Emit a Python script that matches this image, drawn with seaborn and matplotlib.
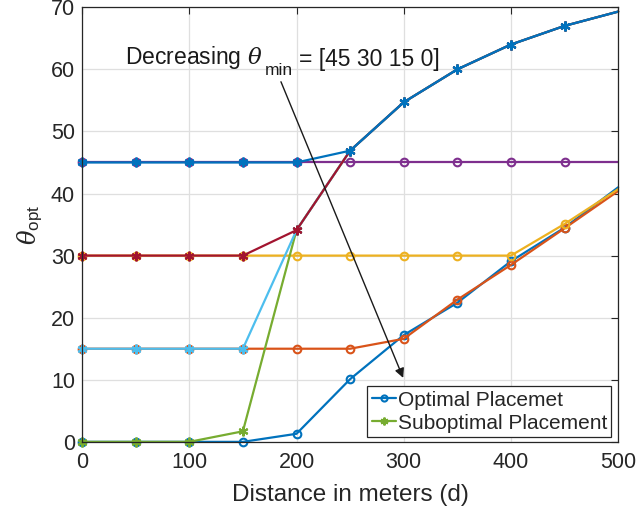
import matplotlib
matplotlib.use("Agg")
import matplotlib.pyplot as plt
import seaborn as sns
import pandas as pd

# Distance from the source (m)
distance = [0, 50, 100, 150, 200, 250, 300, 350, 400, 450, 500]

# Optimal placement angle for theta_min = 0, 15, 30, 45
opt_0 = [0, 0, 0, 0, 1.3, 10.1, 17.2, 22.4, 29.1, 34.5, 41.0]
opt_15 = [15, 15, 15, 15, 15, 15, 16.6, 22.9, 28.5, 34.4, 40.4]
opt_30 = [30, 30, 30, 30, 30, 30, 30, 30, 30, 35.1, 40.7]
opt_45 = [45, 45, 45, 45, 45, 45, 45, 45, 45, 45, 45]

# Suboptimal placement angle for theta_min = 0, 15, 30, 45
sub_0 = [0, 0, 0, 1.7, 34.1, 46.9, 54.7, 60.0, 64.0, 67.0, 69.3]
sub_15 = [15, 15, 15, 15, 34.1, 46.9, 54.7, 60.0, 64.0, 67.0, 69.3]
sub_30 = [30, 30, 30, 30, 34.1, 46.9, 54.7, 60.0, 64.0, 67.0, 69.3]
sub_45 = [45, 45, 45, 45, 45, 46.9, 54.7, 60.0, 64.0, 67.0, 69.3]

x_ticks = [0, 100, 200, 300, 400, 500]
y_ticks = [0, 10, 20, 30, 40, 50, 60, 70]

sns.set_theme(style="whitegrid")
plt.rcParams["font.family"] = ["Liberation Sans", "DejaVu Sans"]
plt.rcParams["mathtext.fontset"] = "custom"
plt.rcParams["mathtext.rm"] = "Liberation Sans"
plt.rcParams["mathtext.it"] = "DejaVu Serif:italic"

fig = plt.figure(figsize=(6.36, 5.18), dpi=100)
ax = fig.add_axes([0.129, 0.147, 0.843, 0.839])

series = [
    (opt_0, "#0072BD", "o"),
    (opt_15, "#D95319", "o"),
    (opt_30, "#EDB120", "o"),
    (opt_45, "#7E2F8E", "o"),
    (sub_0, "#77AC30", (6, 2, 0)),
    (sub_15, "#4DBEEE", (6, 2, 0)),
    (sub_30, "#A2142F", (6, 2, 0)),
    (sub_45, "#0072BD", (6, 2, 0)),
]

for vals, col, mk in series:
    df = pd.DataFrame({"d": distance, "theta": vals})
    sns.lineplot(data=df, x="d", y="theta", ax=ax, color=col, lw=1.6,
                 marker=mk, markersize=5.5 if mk == "o" else 7,
                 markerfacecolor="none", markeredgecolor=col,
                 markeredgewidth=1.5, markevery=slice(0, 10),
                 clip_on=False, legend=False)

lines = ax.get_lines()
leg = ax.legend([lines[0], lines[4]], ["Optimal Placemet", "Suboptimal Placement"],
                loc="lower right", bbox_to_anchor=(0.987, 0.0115), fontsize=15,
                frameon=True, fancybox=False, framealpha=1, edgecolor="#262626",
                handlelength=1.15, handletextpad=0.1, borderpad=0.2,
                labelspacing=0.2, borderaxespad=0.0, markerscale=0.8)
leg.get_frame().set_linewidth(0.9)

ax.set_xlim(0, 500)
ax.set_ylim(0, 70)
ax.set_xticks(x_ticks)
ax.set_yticks(y_ticks)
ax.grid(True, color="#DFDFDF", lw=0.9)
ax.tick_params(axis="both", which="major", direction="in", length=5, width=0.8,
               colors="#262626", labelsize=15.5, top=True, right=True,
               labelcolor="#262626")
ax.tick_params(axis="x", pad=7)
ax.tick_params(axis="y", pad=5)
for sp in ax.spines.values():
    sp.set_visible(True)
    sp.set_color("#262626")
    sp.set_linewidth(0.9)

ax.set_xlabel("Distance in meters (d)", fontsize=17.5, color="#262626", labelpad=8)
ax.set_ylabel(r"$\theta_{\mathrm{opt}}$", fontsize=17.5, color="#262626", labelpad=4)

# Arrow pointing along the direction of decreasing theta_min
ax.annotate("", xy=(299.5, 10.3), xytext=(185.5, 58.0),
            arrowprops=dict(arrowstyle="-|>", color="k", lw=1.0,
                            mutation_scale=14, shrinkA=0, shrinkB=0))

# Annotation text built from pieces so the subscript sits low, TeX-style
t1 = ax.text(40.0, 60.8, r"Decreasing $\theta$", ha="left", va="baseline",
             fontsize=16.5, color="k")
t2 = ax.annotate("min", xy=(1, 0), xycoords=t1, xytext=(1.5, -2.5),
                 textcoords="offset points", ha="left", va="baseline",
                 fontsize=12.5, color="k")
t3 = ax.annotate("= [45 30 15 0]", xy=(1, 0), xycoords=(t2, t1),
                 xytext=(4.5, 0), textcoords="offset points",
                 ha="left", va="bottom", fontsize=16.5, color="k")

fig.savefig("out.png", dpi=100)
